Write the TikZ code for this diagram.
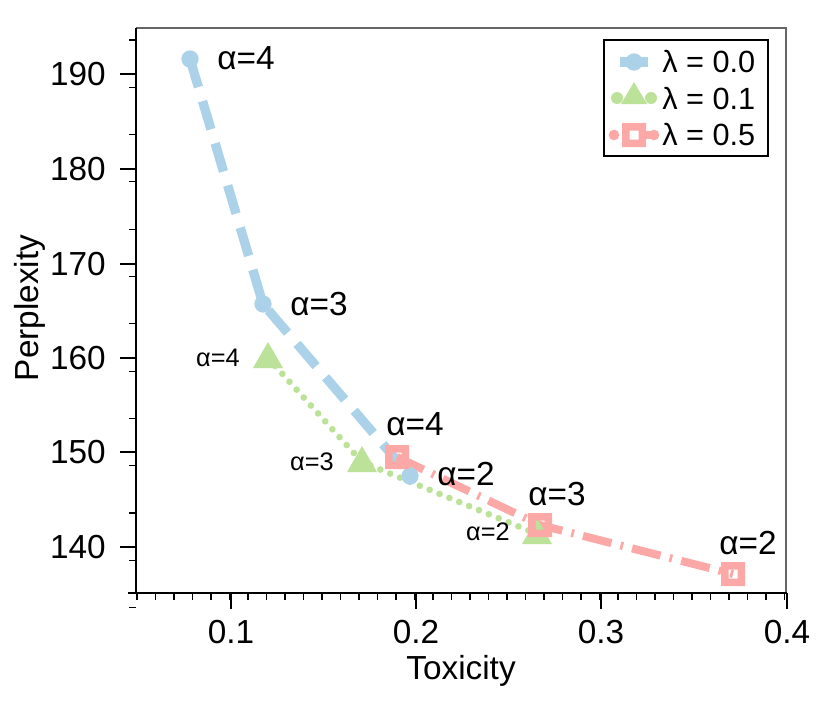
\documentclass[tikz,border=0pt]{standalone}
\usepackage{fontspec}
\usetikzlibrary{calc}
\setmainfont{Liberation Sans}
\begin{document}
\begin{tikzpicture}[x=0.75pt,y=-0.75pt,
  bl/.style={draw=none,fill={rgb,255:red,171;green,210;blue,232}},
  gr/.style={draw=none,fill={rgb,255:red,187;green,226;blue,152}},
  rd/.style={draw=none,fill={rgb,255:red,252;green,168;blue,166}},
  bline/.style={line width=7pt,color={rgb,255:red,171;green,210;blue,232},dash pattern=on 22pt off 11pt},
  gline/.style={line width=5pt,color={rgb,255:red,187;green,226;blue,152},line cap=round,dash pattern=on 0pt off 8pt},
  rline/.style={line width=6pt,color={rgb,255:red,252;green,168;blue,166},dash pattern=on 22pt off 7pt on 2pt off 7pt},
  big/.style={font=\fontsize{25}{30}\selectfont,anchor=west,inner sep=0pt},
  sml/.style={font=\fontsize{19}{23}\selectfont,anchor=east,inner sep=0pt},
  tick/.style={font=\fontsize{25}{30}\selectfont,inner sep=0pt}]
\useasboundingbox (0,0) rectangle (830,703);
% frame
\draw[gray!80!black,line width=0.8pt] (136,28) -- (786,28) -- (786,593);
\draw[line width=0.9pt] (136,28) -- (136,593);
\draw[line width=0.9pt] (128,593) -- (787,593);
% x ticks
\foreach \i in {0,...,35}{\draw[line width=0.8pt] ({137+\i*18.5},593) -- ({137+\i*18.5},600);}
\foreach \v/\px in {0.1/231,0.2/416,0.3/601,0.4/787}{
  \draw[line width=0.8pt] (\px,593) -- (\px,609);
  \node[tick,anchor=north] (xt\px) at (\px,620) {\v};}
% y ticks
\foreach \i in {0,...,12}{\draw[line width=0.8pt] (136,{40+\i*47.3}) -- (129,{40+\i*47.3});}
\foreach \v/\py in {190/74,180/169,170/264,160/358,150/452,140/547}{
  \draw[line width=0.8pt] (136,\py) -- (120,\py);
  \node[tick,anchor=east] (yt\v) at (106,\py) {\v};}
\node[font=\fontsize{25}{30}\selectfont] (xl) at (461,671) {Toxicity};
\node[font=\fontsize{25}{30}\selectfont,rotate=90] (yl) at (30,308) {Perplexity};
% data points
\coordinate (b1) at (190,59); \coordinate (b2) at (263,304); \coordinate (b3) at (410,476);
\coordinate (g1) at (268,358); \coordinate (g2) at (362,462); \coordinate (g3) at (537,534);
\coordinate (r1) at (397,457); \coordinate (r2) at (540,525); \coordinate (r3) at (733,574);
\draw[bline] (b1) -- (b2) -- (b3);
\draw[gline] (g1) -- (g2) -- (g3);
\draw[rline] (r1) -- (r2) -- (r3);
\foreach \p in {b1,b2,b3}{\fill[bl] (\p) circle (6.5pt);}
\foreach \p in {g1,g2,g3}{\fill[gr] ($(\p)+(0,-16)$) -- ($(\p)+(15,10)$) -- ($(\p)+(-15,10)$) -- cycle;}
\foreach \p in {r1,r2,r3}{\fill[rd,even odd rule] ($(\p)+(-12,-12)$) rectangle ($(\p)+(12,12)$) ($(\p)+(-4.5,-4.5)$) rectangle ($(\p)+(4.5,4.5)$);}
% labels
\node[big] (lb1) at (217,58) {α=4};
\node[big] (lb2) at (290,304) {α=3};
\node[big] (lb3) at (437,474) {α=2};
\node[sml] (lg1) at (240,358) {α=4};
\node[sml] (lg2) at (334,462) {α=3};
\node[sml] (lg3) at (510,532) {α=2};
\node[big] (lr1) at (386,424) {α=4};
\node[big] (lr2) at (528,494) {α=3};
\node[big] (lr3) at (719,543) {α=2};
% legend
\draw[line width=0.8pt,fill=white] (604,40) rectangle (768,156);
\draw[line width=7pt,color={rgb,255:red,171;green,210;blue,232}] (620,62) -- (648,62);
\fill[bl] (634,62) circle (6.5pt);
\fill[gr] (634,82) -- (647,104) -- (621,104) -- cycle;
\fill[gr] (617,98) circle (4.5pt) (651,98) circle (4.5pt);
\fill[rd] (614,135) circle (4pt) (654,135) circle (4pt);
\fill[rd,even odd rule] (622,123) rectangle (646,147) (629.5,130.5) rectangle (638.5,139.5);
\fill[rd] (646,131) rectangle (650,139);
\node[font=\fontsize{23}{28}\selectfont,anchor=west,inner sep=0pt] (t1) at (662,62) {λ = 0.0};
\node[font=\fontsize{23}{28}\selectfont,anchor=west,inner sep=0pt] (t2) at (662,99) {λ = 0.1};
\node[font=\fontsize{23}{28}\selectfont,anchor=west,inner sep=0pt] (t3) at (662,135) {λ = 0.5};
\end{tikzpicture}
\end{document}
